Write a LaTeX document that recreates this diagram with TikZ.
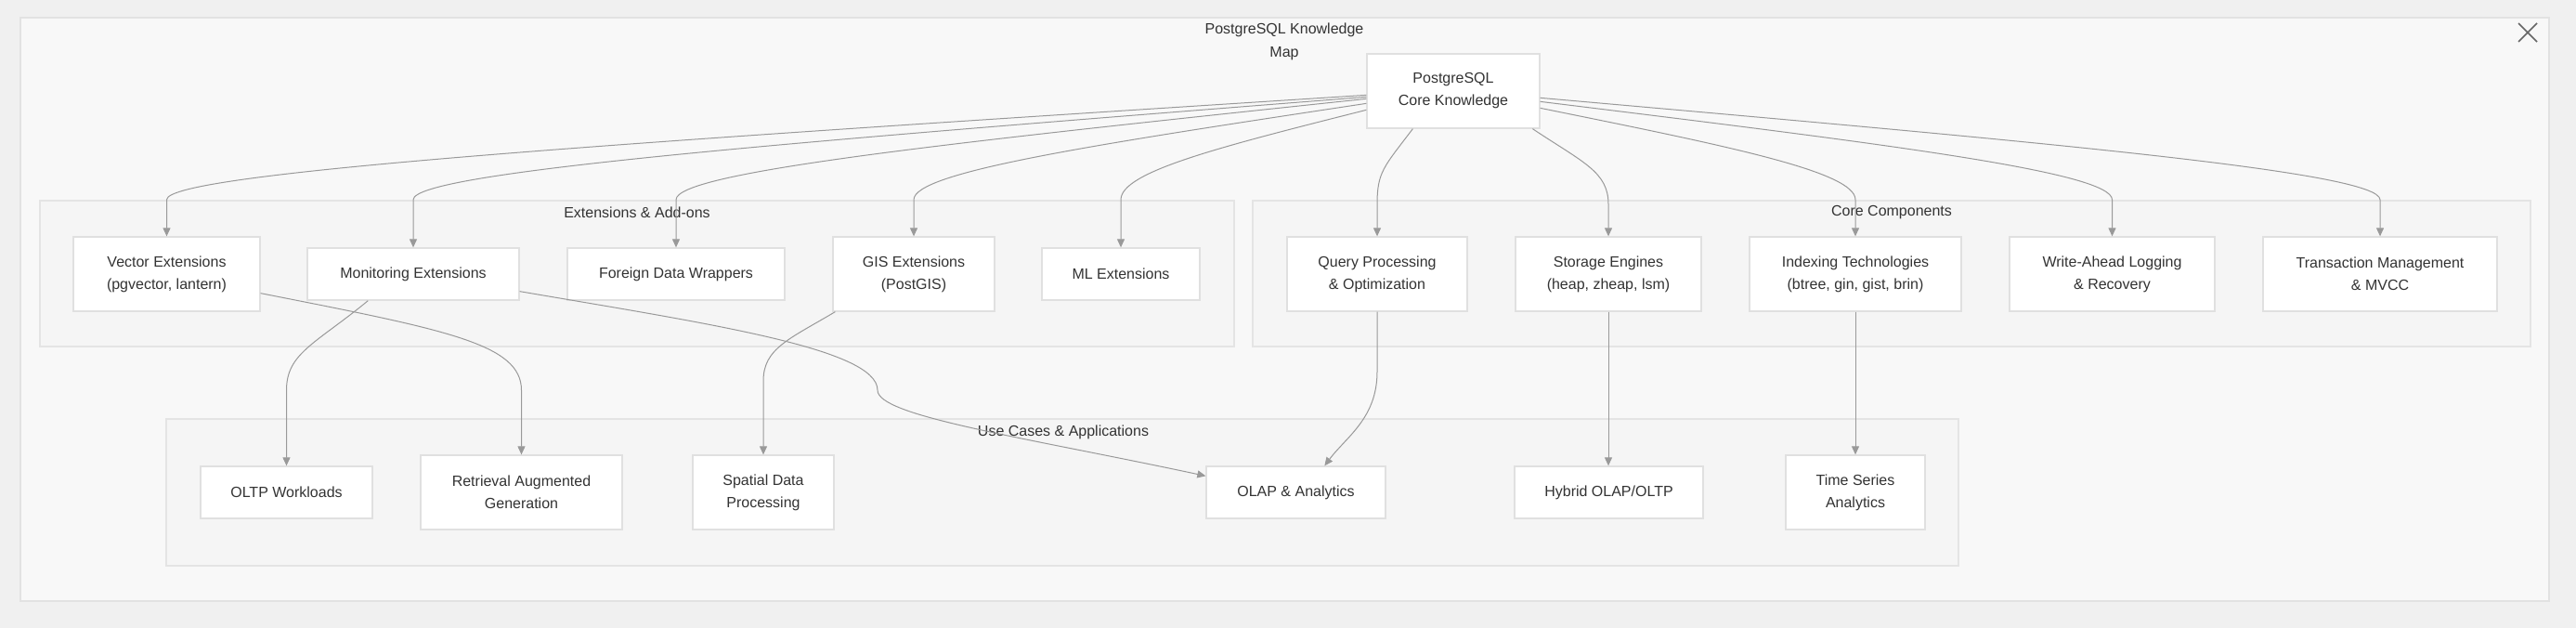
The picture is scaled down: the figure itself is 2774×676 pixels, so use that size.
\documentclass[tikz,border=0pt]{standalone}
\usepackage{fontspec}
\setmainfont{Liberation Sans}
\usetikzlibrary{arrows.meta,calc}
\definecolor{pageout}{HTML}{F0F0F0}
\definecolor{framefill}{HTML}{F8F8F8}
\definecolor{frameline}{HTML}{E2E2E2}
\definecolor{clusterfill}{HTML}{F5F5F5}
\definecolor{clusterline}{HTML}{E4E4E4}
\definecolor{nodeline}{HTML}{E0E0E0}
\definecolor{edgecol}{HTML}{999999}
\definecolor{txt}{HTML}{333333}
\tikzset{
  nbox/.style={draw=nodeline, line width=1.3pt, fill=white, text=txt, inner sep=0pt,
    align=center, font=\fontsize{16}{24}\selectfont},
  cluster/.style={draw=clusterline, line width=1.3pt, fill=clusterfill},
  clabel/.style={text=txt, font=\fontsize{16}{20}\selectfont, inner sep=0pt},
  edge/.style={draw=edgecol, line width=1pt, -{Triangle[length=9pt,width=8pt]}}
}
\begin{document}
\begin{tikzpicture}[x=1pt,y=-1pt]
\useasboundingbox (0,0) rectangle (2774,676);
\fill[pageout] (0,0) rectangle (2774,676);
\draw[draw=frameline, line width=1.3pt, fill=framefill] (22,19) rectangle (2745,647);
% close icon
\draw[draw=black!60, line width=1.5pt] (2712,25) -- (2732,45) (2732,25) -- (2712,45);
% title
\node[clabel] (title1) at (1383,32) {PostgreSQL Knowledge};
\node[clabel] (title2) at (1383,58) {Map};
% clusters
\draw[cluster] (43,216) rectangle (1329,373);
\draw[cluster] (1349,216) rectangle (2725,373);
\draw[cluster] (179,451) rectangle (2109,609);
\node[clabel] (lext) at (686,229) {Extensions \& Add-ons};
\node[clabel] (lcore) at (2037,229) {Core Components};
\node[clabel] (luse) at (1145,465) {Use Cases \& Applications};
% nodes
\node[nbox, minimum width=186pt, minimum height=80pt] (core) at (1565,98) {PostgreSQL\\Core Knowledge};
\node[nbox, minimum width=201pt, minimum height=80pt] (vec) at (179.5,295) {Vector Extensions\\(pgvector, lantern)};
\node[nbox, minimum width=228pt, minimum height=56pt] (mon) at (445,295) {Monitoring Extensions};
\node[nbox, minimum width=234pt, minimum height=56pt] (fdw) at (728,295) {Foreign Data Wrappers};
\node[nbox, minimum width=174pt, minimum height=80pt] (gis) at (984,295) {GIS Extensions\\(PostGIS)};
\node[nbox, minimum width=170pt, minimum height=56pt] (ml) at (1207,295) {ML Extensions};
\node[nbox, minimum width=194pt, minimum height=80pt] (qp) at (1483,295) {Query Processing\\\& Optimization};
\node[nbox, minimum width=200pt, minimum height=80pt] (se) at (1732,295) {Storage Engines\\(heap, zheap, lsm)};
\node[nbox, minimum width=228pt, minimum height=80pt] (ix) at (1998,295) {Indexing Technologies\\(btree, gin, gist, brin)};
\node[nbox, minimum width=221pt, minimum height=80pt] (wal) at (2274.5,295) {Write-Ahead Logging\\\& Recovery};
\node[nbox, minimum width=252pt, minimum height=80pt] (txn) at (2563,295) {Transaction Management\\\& MVCC};
\node[nbox, minimum width=185pt, minimum height=56pt] (oltp) at (308.5,530) {OLTP Workloads};
\node[nbox, minimum width=217pt, minimum height=80pt] (rag) at (561.5,530) {Retrieval Augmented\\Generation};
\node[nbox, minimum width=152pt, minimum height=80pt] (sp) at (822,530) {Spatial Data\\Processing};
\node[nbox, minimum width=193pt, minimum height=56pt] (olap) at (1395.5,530) {OLAP \& Analytics};
\node[nbox, minimum width=203pt, minimum height=56pt] (hyb) at (1732.5,530) {Hybrid OLAP/OLTP};
\node[nbox, minimum width=150pt, minimum height=80pt] (ts) at (1998,530) {Time Series\\Analytics};
% edge anchor points
\coordinate (c1) at ($(core.north west)+(0,45)$);
\coordinate (c2) at ($(core.north west)+(0,47)$);
\coordinate (c3) at ($(core.north west)+(0,49)$);
\coordinate (c4) at ($(core.north west)+(0,54)$);
\coordinate (c5) at ($(core.north west)+(0,61)$);
\coordinate (r1) at ($(core.north east)+(0,59)$);
\coordinate (r2) at ($(core.north east)+(0,52)$);
\coordinate (r3) at ($(core.north east)+(0,48)$);
\coordinate (b1) at ($(core.south west)+(50,0)$);
\coordinate (b2) at ($(core.south west)+(179,0)$);
% core -> extensions
\draw[edge] (c1) .. controls ($(c1)!0.6!(179.5,185)$) and (179.5,185) .. (179.5,215) -- (vec.north);
\draw[edge] (c2) .. controls ($(c2)!0.6!(445,185)$) and (445,185) .. (445,215) -- (mon.north);
\draw[edge] (c3) .. controls ($(c3)!0.6!(728,185)$) and (728,185) .. (728,215) -- (fdw.north);
\draw[edge] (c4) .. controls ($(c4)!0.6!(984,185)$) and (984,185) .. (984,215) -- (gis.north);
\draw[edge] (c5) .. controls ($(c5)!0.6!(1207,185)$) and (1207,185) .. (1207,215) -- (ml.north);
% core -> core components
\draw[edge] (b1) .. controls (1490,180) and (1483,185) .. (1483,220) -- (qp.north);
\draw[edge] (b2) .. controls (1705,175) and (1732,185) .. (1732,220) -- (se.north);
\draw[edge] (r1) .. controls ($(r1)!0.6!(1998,185)$) and (1998,185) .. (1998,215) -- (ix.north);
\draw[edge] (r2) .. controls ($(r2)!0.6!(2274.5,185)$) and (2274.5,185) .. (2274.5,215) -- (wal.north);
\draw[edge] (r3) .. controls ($(r3)!0.6!(2563,185)$) and (2563,185) .. (2563,215) -- (txn.north);
% lower edges
\coordinate (vo) at ($(vec.south east)+(0,-20)$);
\coordinate (mo1) at ($(mon.south west)+(66,0)$);
\coordinate (mo2) at ($(mon.south east)+(0,-10)$);
\coordinate (gs) at ($(gis.south west)+(3,0)$);
\coordinate (ol1) at ($(olap.north west)+(0,11)$);
\coordinate (ol2) at ($(olap.north west)+(128,0)$);
\draw[edge] (vo) .. controls (480,355) and (561.5,370) .. (561.5,420) -- (rag.north);
\draw[edge] (mo1) .. controls (340,370) and (308.5,380) .. (308.5,420) -- (oltp.north);
\draw[edge] (mo2) .. controls (760,348) and (945,375) .. (945,420) .. controls (945,448) and (1100,470) .. (ol1);
\draw[edge] (gs) .. controls (850,365) and (822,375) .. (822,410) -- (sp.north);
\draw[edge] (qp.south) -- (1483,400) .. controls (1483,450) and (1450,470) .. (ol2);
\draw[edge] (se.south) -- (se.south |- hyb.north);
\draw[edge] (ix.south) -- (ts.north);
\end{tikzpicture}
\end{document}
